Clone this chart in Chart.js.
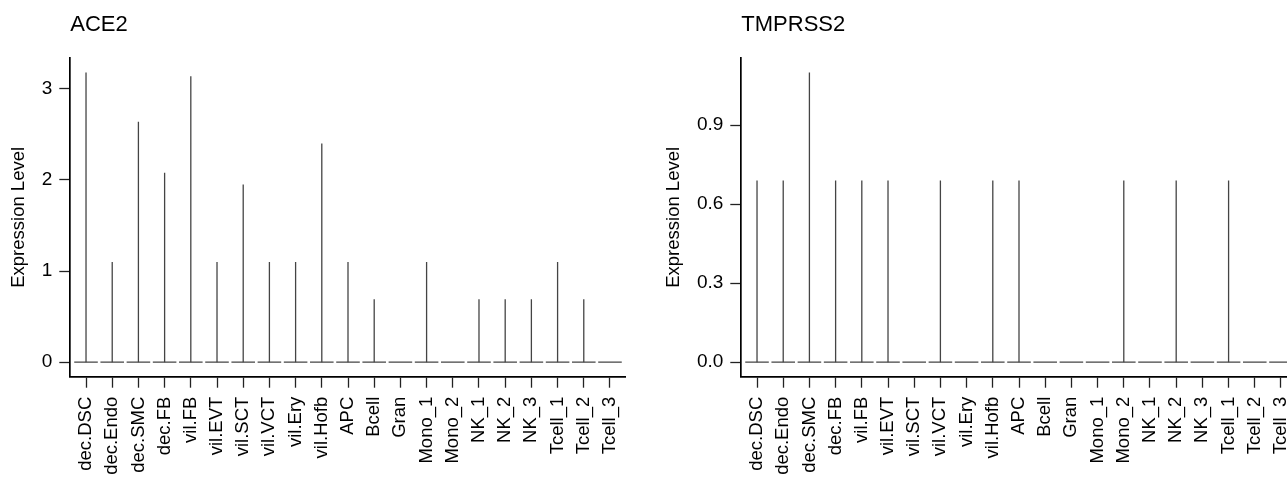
<!DOCTYPE html>
<html><head><meta charset="utf-8">
<script src="https://cdn.jsdelivr.net/npm/chart.js@4.4.1/dist/chart.umd.min.js"></script>
<style>
html,body{margin:0;padding:0;background:#fff;}
#wrap{position:relative;width:1287px;height:480px;overflow:hidden;background:#fff;}
.c{position:absolute;top:0;height:480px;}
#c1{left:0;width:650px;}
#c2{left:660px;width:660px;}
</style></head><body>
<div id="wrap"><div class="c" id="c1"><canvas id="ace2"></canvas></div><div class="c" id="c2"><canvas id="tmp"></canvas></div></div>
<script>
// ---- data ----
const categories = ['dec.DSC','dec.Endo','dec.SMC','dec.FB','vil.FB','vil.EVT','vil.SCT','vil.VCT','vil.Ery','vil.Hofb',
  'APC','Bcell','Gran','Mono_1','Mono_2','NK_1','NK_2','NK_3','Tcell_1','Tcell_2','Tcell_3'];
const ace2Max = [3.18, 1.10, 2.64, 2.08, 3.14, 1.10, 1.95, 1.10, 1.10, 2.40,
  1.10, 0.69, 0, 1.10, 0, 0.69, 0.69, 0.69, 1.10, 0.69, 0];
const tmprss2Max = [0.69, 0.69, 1.10, 0.69, 0.69, 0.69, 0, 0.69, 0, 0.69,
  0.69, 0, 0, 0, 0.69, 0, 0.69, 0, 0.69, 0, 0];
const ace2Ticks = [0, 1, 2, 3];
const ace2TickLabels = ['0', '1', '2', '3'];
const tmprss2Ticks = [0, 0.3, 0.6, 0.9];
const tmprss2TickLabels = ['0.0', '0.3', '0.6', '0.9'];

const FONT = '"Liberation Sans", Arial, Helvetica, sans-serif';
const LINE = '#444444';

function makeChart(id, title, maxVals, ticks, tickLabels, g) {
  const stems = [], bases = [];
  maxVals.forEach((v, i) => {
    bases.push({x: i - 0.45, y: 0}, {x: i + 0.45, y: 0}, {x: i, y: null});
    if (v > 0) stems.push({x: i, y: 0}, {x: i, y: v}, {x: i, y: null});
  });
  const top = Math.max(...maxVals);
  const pad = top * 0.05;
  return new Chart(document.getElementById(id), {
    type: 'scatter',
    data: {datasets: [
      {data: stems, showLine: true, spanGaps: false, borderColor: LINE, borderWidth: 1.3, pointRadius: 0, borderCapStyle: 'butt'},
      {data: bases, showLine: true, spanGaps: false, borderColor: LINE, borderWidth: 1.3, pointRadius: 0, borderCapStyle: 'butt'}
    ]},
    options: {
      responsive: true, maintainAspectRatio: false, animation: false,
      layout: {padding: {left: 0, right: g.padRight, top: 0, bottom: 0}},
      plugins: {
        legend: {display: false}, tooltip: {enabled: false},
        title: {display: true, text: title, align: 'start', fullSize: false, color: '#000',
          font: {family: FONT, size: 22, weight: 'normal', lineHeight: 1.2},
          padding: {top: 11.3, bottom: 20.3}}
      },
      scales: {
        x: {
          type: 'linear', min: -0.6, max: categories.length - 1 + 0.6,
          afterBuildTicks: s => { s.ticks = categories.map((c, i) => ({value: i})); },
          afterFit: s => { s.height = g.xAxisH; },
          ticks: {callback: v => categories[v], minRotation: 90, maxRotation: 90, autoSkip: false,
            padding: 9, color: '#000', font: {family: FONT, size: 18.5}},
          grid: {display: true, drawOnChartArea: false, drawTicks: true, tickLength: 11, tickWidth: 1.3, tickColor: '#222'},
          border: {display: true, color: '#000', width: 1.7}
        },
        y: {
          type: 'linear', min: -pad, max: top + pad,
          afterBuildTicks: s => { s.ticks = ticks.map(v => ({value: v})); },
          afterFit: s => { s.width = g.yAxisW; },
          ticks: {callback: (v, i) => tickLabels[i], padding: 7, color: '#000', font: {family: FONT, size: 19}},
          grid: {display: true, drawOnChartArea: false, drawTicks: true, tickLength: 11, tickWidth: 1.3, tickColor: '#222'},
          border: {display: true, color: '#000', width: 1.7},
          title: {display: true, text: 'Expression Level', color: '#000',
            font: {family: FONT, size: 18.5, lineHeight: 1.2}, padding: {top: g.yTitlePad, bottom: 0}}
        }
      }
    }
  });
}

makeChart('ace2', 'ACE2', ace2Max, ace2Ticks, ace2TickLabels,
  {yAxisW: 70.3, padRight: 650 - 625.7, xAxisH: 480 - 376.7, yTitlePad: 7.4});
makeChart('tmp', 'TMPRSS2', tmprss2Max, tmprss2Ticks, tmprss2TickLabels,
  {yAxisW: 81.3, padRight: 660 - 636.7, xAxisH: 480 - 376.7, yTitlePad: 2.9});
</script>
</body></html>
